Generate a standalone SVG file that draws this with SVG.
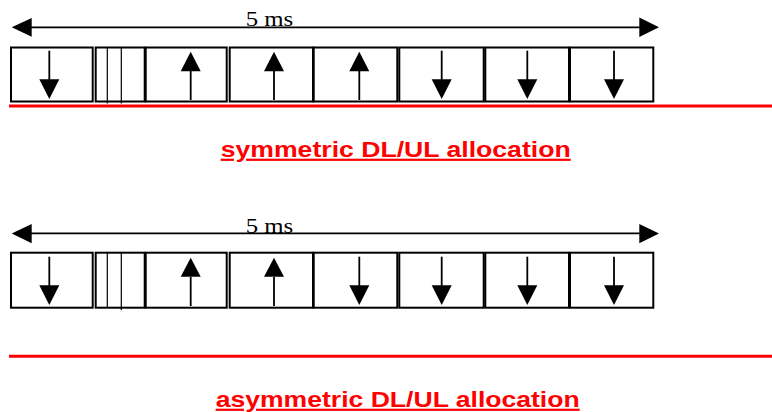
<svg xmlns="http://www.w3.org/2000/svg" width="772" height="412" viewBox="0 0 772 412">
<style>
.box{fill:#fff;stroke:#000;stroke-width:2}
.thin{stroke:#000;stroke-width:1.2}
.ar{stroke:#000;stroke-width:1.8}
.hd{fill:#000}
.red{stroke:#ff0000;stroke-width:3}
.ms{font-family:"Liberation Serif","Times New Roman",serif;font-size:20px;fill:#000}
.title{font-family:"Liberation Sans",Arial,sans-serif;font-weight:bold;font-size:22px;fill:#ff0000;text-decoration:underline}
</style>
<rect width="772" height="412" fill="#fff"/>
<g id="frame-sym">
<g id="sym-span">
<line class="ar" x1="28" y1="27.3" x2="642" y2="27.3"/>
<polygon class="hd" points="11.7,27.3 31.7,18 31.7,36.7"/>
<polygon class="hd" points="659,27.3 639.3,17.5 639.3,36.9"/>
<text class="ms" x="245.7" y="25.7" textLength="47.6" lengthAdjust="spacingAndGlyphs">5 ms</text>
</g>
<g id="sym-s1"><rect class="box" x="11" y="47.5" width="81.7" height="54"/><line class="ar" x1="49.3" y1="50.7" x2="49.3" y2="80"/><polygon class="hd" points="39.3,79.3 59.3,79.3 49.3,99"/></g>
<g id="sym-gap"><rect class="box" x="95.7" y="47.5" width="49" height="54"/><line class="thin" x1="107.3" y1="47.5" x2="107.3" y2="103.5"/><line class="thin" x1="121.3" y1="47.5" x2="121.3" y2="103.5"/></g>
<g id="sym-s3"><rect class="box" x="145.7" y="47.5" width="81" height="54"/><line class="ar" x1="190.7" y1="100" x2="190.7" y2="71"/><polygon class="hd" points="180.7,71.3 200.7,71.3 190.7,51.7"/></g>
<g id="sym-s4"><rect class="box" x="229.7" y="47.5" width="83.3" height="54"/><line class="ar" x1="274" y1="100" x2="274" y2="71"/><polygon class="hd" points="264,71.3 284,71.3 274,51.7"/></g>
<g id="sym-s5"><rect class="box" x="313.7" y="47.5" width="83.6" height="54"/><line class="ar" x1="359.3" y1="100" x2="359.3" y2="71"/><polygon class="hd" points="349.3,71.3 369.3,71.3 359.3,51.7"/></g>
<g id="sym-s6"><rect class="box" x="399.3" y="47.5" width="84.4" height="54"/><line class="ar" x1="441.7" y1="50.7" x2="441.7" y2="80"/><polygon class="hd" points="431.7,79.3 451.7,79.3 441.7,99"/></g>
<g id="sym-s7"><rect class="box" x="485.3" y="47.5" width="83.7" height="54"/><line class="ar" x1="527.3" y1="50.7" x2="527.3" y2="80"/><polygon class="hd" points="517.3,79.3 537.3,79.3 527.3,99"/></g>
<g id="sym-s8"><rect class="box" x="570" y="47.5" width="83.3" height="54"/><line class="ar" x1="614" y1="50.7" x2="614" y2="80"/><polygon class="hd" points="604,79.3 624,79.3 614,99"/></g>
<line class="red" x1="9" y1="106" x2="772" y2="106"/>
<text class="title" x="220.7" y="156.7" textLength="350" lengthAdjust="spacingAndGlyphs">symmetric DL/UL allocation</text>
</g>
<g id="frame-asym">
<g id="asym-span">
<line class="ar" x1="28" y1="233.3" x2="642" y2="233.3"/>
<polygon class="hd" points="11.7,233.5 31.7,224 31.7,243.3"/>
<polygon class="hd" points="659,233.5 639.3,224 639.3,243.3"/>
<text class="ms" x="245.7" y="232.7" textLength="47.6" lengthAdjust="spacingAndGlyphs">5 ms</text>
</g>
<g id="asym-s1"><rect class="box" x="11" y="252.7" width="81.7" height="55"/><line class="ar" x1="49.3" y1="256.7" x2="49.3" y2="286"/><polygon class="hd" points="39.3,285.3 59.3,285.3 49.3,305"/></g>
<g id="asym-gap"><rect class="box" x="95.7" y="252.7" width="49" height="55"/><line class="thin" x1="107.3" y1="252.7" x2="107.3" y2="307.7"/><line class="thin" x1="121.3" y1="252.7" x2="121.3" y2="310"/></g>
<g id="asym-s3"><rect class="box" x="145.7" y="252.7" width="81" height="55"/><line class="ar" x1="190.7" y1="306" x2="190.7" y2="277"/><polygon class="hd" points="180.7,276.7 200.7,276.7 190.7,257.7"/></g>
<g id="asym-s4"><rect class="box" x="229.7" y="252.7" width="83.3" height="55"/><line class="ar" x1="274" y1="306" x2="274" y2="277"/><polygon class="hd" points="264,276.7 284,276.7 274,257.7"/></g>
<g id="asym-s5"><rect class="box" x="313.7" y="252.7" width="83.6" height="55"/><line class="ar" x1="359.3" y1="256.7" x2="359.3" y2="286"/><polygon class="hd" points="349.3,285.3 369.3,285.3 359.3,305"/></g>
<g id="asym-s6"><rect class="box" x="399.3" y="252.7" width="84.4" height="55"/><line class="ar" x1="441.7" y1="256.7" x2="441.7" y2="286"/><polygon class="hd" points="431.7,285.3 451.7,285.3 441.7,305"/></g>
<g id="asym-s7"><rect class="box" x="485.3" y="252.7" width="83.7" height="55"/><line class="ar" x1="527.3" y1="256.7" x2="527.3" y2="286"/><polygon class="hd" points="517.3,285.3 537.3,285.3 527.3,305"/></g>
<g id="asym-s8"><rect class="box" x="570" y="252.7" width="83.3" height="55"/><line class="ar" x1="614" y1="256.7" x2="614" y2="286"/><polygon class="hd" points="604,285.3 624,285.3 614,305"/></g>
<line class="red" x1="9" y1="356.3" x2="772" y2="356.3"/>
<text class="title" x="215.7" y="406.7" textLength="364" lengthAdjust="spacingAndGlyphs">asymmetric DL/UL allocation</text>
</g>
</svg>
